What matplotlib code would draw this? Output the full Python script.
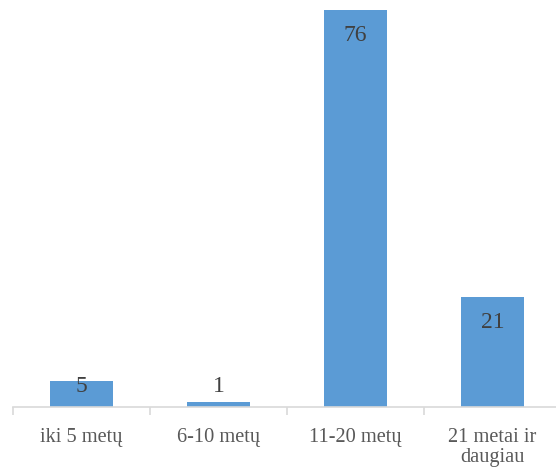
import matplotlib
matplotlib.use("Agg")
import matplotlib.pyplot as plt
import numpy as np

categories = ["iki 5 metų", "6-10 metų", "11-20 metų", "21 metai ir\ndaugiau"]
values = [5, 1, 76, 21]

bar_color = "#5B9BD5"

fig = plt.figure(figsize=(5.56, 4.68), dpi=100)
ax = fig.add_axes([13/556, 61/468, 548/556, 407/468])

x = np.arange(len(categories))
ax.bar(x, values, width=0.467, color=bar_color, zorder=2)

ymax = 78.0
ax.set_xlim(-0.5, len(categories) - 0.5)
ax.set_ylim(0, ymax)

px_per_unit = 407 / ymax
for xi, v in zip(x, values):
    y = v - 25 / px_per_unit
    y = max(y, 21 / px_per_unit)
    ax.text(xi, y, str(v), ha="center", va="center", fontsize=17,
            family="Liberation Serif", color="#404040", zorder=3)

for s in ["top", "right", "left"]:
    ax.spines[s].set_visible(False)
ax.spines["bottom"].set_color("#D9D9D9")
ax.spines["bottom"].set_linewidth(1.2)

ax.set_yticks([])
ax.set_xticks(x)
ax.set_xticklabels(categories, fontsize=14.7, family="Liberation Serif",
                   color="#595959", linespacing=1.1)
ax.tick_params(axis="x", which="major", length=0, pad=15)
ax.set_xticks(np.arange(-0.5, len(categories) + 0.5, 1), minor=True)
ax.tick_params(axis="x", which="minor", length=6, color="#D9D9D9", width=1.2)

fig.savefig("out.png", dpi=100)
